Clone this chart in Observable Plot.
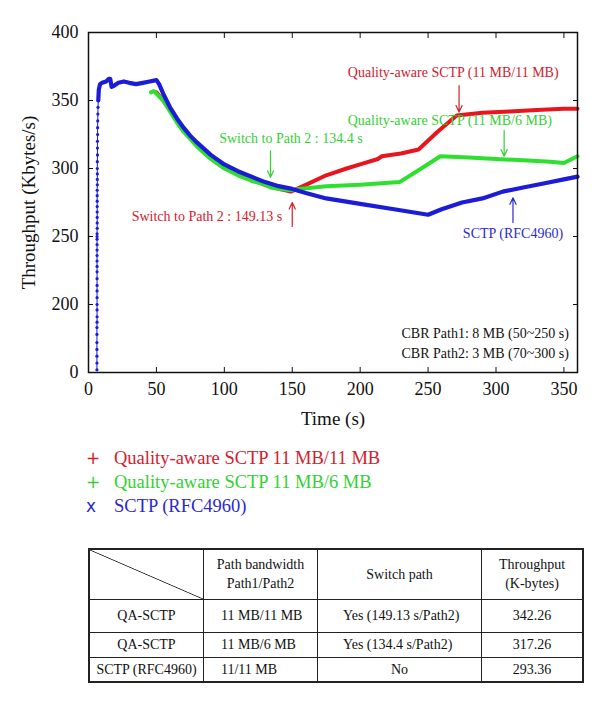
<!DOCTYPE html>
<html><head><meta charset="utf-8">
<script src="https://cdn.jsdelivr.net/npm/d3@7"></script>
<script src="https://cdn.jsdelivr.net/npm/@observablehq/plot@0.6"></script>
<style>
body{margin:0;background:#fff;font-family:"Liberation Serif",serif;}
#wrap{position:relative;width:600px;height:705px;overflow:hidden;}
#chart{position:absolute;left:0;top:0;}
#legend{position:absolute;left:84px;top:446px;font-size:18.5px;line-height:24px;}
#legend .m{display:inline-block;width:28px;font-family:"DejaVu Sans",sans-serif;font-size:17px;text-align:left;padding-left:2px;}
#tbl{position:absolute;left:88px;top:548px;}
table{border-collapse:collapse;border:2px solid #222;font-size:14px;color:#111;}
td{border:1px solid #222;padding:0;text-align:center;vertical-align:middle;line-height:19px;}
td.l{text-align:left;}
td.diag{background:linear-gradient(to top right, transparent calc(50% - 0.8px), #222 50%, transparent calc(50% + 0.8px));}
</style></head>
<body><div id="wrap"><div id="chart"></div><div id="legend"></div><div id="tbl"></div></div>
<script>
// ---- data ----
const xTicks = [0, 50, 100, 150, 200, 250, 300, 350];
const yTicks = [150, 200, 250, 300, 350, 400];
const yTickLabels = ["0", "200", "250", "300", "350", "400"];

const redT = [50, 55, 60, 70, 80, 90, 100, 110, 120, 130, 140, 149, 160, 175, 190, 200, 213, 216, 230, 243, 257, 271, 290, 310, 330, 350, 360];
const redV = [356, 350, 343, 328, 317, 308, 301, 296, 292, 288, 285, 283, 288, 295, 300, 303, 307, 309, 311, 314, 327, 339, 341, 342, 343, 344, 344];

const greenT = [46, 48, 50, 55, 60, 65, 70, 80, 90, 100, 110, 120, 130, 134, 140, 150, 155, 175, 200, 229, 245, 259, 280, 300, 320, 340, 350, 360];
const greenV = [356, 357, 355, 350, 342, 334, 327, 316, 307, 300, 295, 291, 288, 286, 285, 284, 285, 287, 288, 290, 300, 309, 308, 307, 306, 305, 304, 309];

const blueRiseT = [6.2, 6.2, 6.2, 6.2, 6.2, 6.2, 6.2, 6.3, 6.3, 6.3, 6.3, 6.3, 6.3, 6.3, 6.3, 6.3, 6.3, 6.3, 6.3, 6.3, 6.3, 6.3, 6.3, 6.3, 6.4, 6.4, 6.4, 6.4, 6.4, 6.4, 6.4, 6.4, 6.5, 6.5, 6.5, 6.5, 6.5, 6.6, 6.6, 6.6, 6.7, 6.7, 6.8, 6.9, 7.0, 7.2];
const blueRiseV = [152, 157, 162, 167, 172, 178, 183, 187, 191, 196, 200, 205, 210, 214, 219, 224, 228, 232, 236, 240, 244, 248, 250, 252, 256, 260, 264, 268, 272, 276, 280, 284, 288, 292, 296, 300, 305, 310, 315, 320, 325, 330, 335, 340, 345, 350];

const blueT = [7.2, 7.6, 8.5, 10, 13, 15, 16, 17, 19, 22, 26, 30, 35, 40, 45, 50, 52, 55, 60, 65, 70, 75, 80, 90, 100, 110, 120, 130, 140, 150, 160, 175, 200, 225, 250, 260, 275, 290, 305, 320, 335, 350, 360];
const blueV = [350, 358, 362, 363, 364, 366, 366, 360, 361, 363, 364, 363, 362, 363, 364, 365, 362, 355, 345, 337, 330, 324, 319, 310, 303, 298, 294, 290, 287, 285, 282, 278, 274, 270, 266, 270, 275, 278, 283, 286, 289, 292, 294];

const seriesNames = ["Quality-aware SCTP 11 MB/11 MB", "Quality-aware SCTP 11 MB/6 MB", "SCTP (RFC4960)"];
const seriesMarkers = ["+", "+", "x"];

const noteTexts = ["Quality-aware SCTP (11 MB/11 MB)", "Quality-aware SCTP (11 MB/6 MB)", "Switch to Path 2 : 134.4 s", "SCTP (RFC4960)"];
const noteT = [268.5, 266, 149, 312.5];
const noteV = [370.5, 335.3, 322, 252.2];
const noteCol = ["red", "green", "green", "blue"];

const noteEndTexts = ["Switch to Path 2 : 149.13 s", "CBR Path1: 8 MB (50~250 s)", "CBR Path2: 3 MB (70~300 s)"];
const noteEndT = [142.6, 353.7, 353.7];
const noteEndV = [264.7, 178.7, 164.2];
const noteEndCol = ["red", "black", "black"];

const arrowT = [272.8, 306, 134, 150, 312.5];
const arrowV1 = [361, 328, 313, 257.4, 260.3];
const arrowV2 = [341.5, 309, 293.5, 275, 278.5];
const arrowCol = ["red", "green", "green", "red", "blue"];

const tableHeader = ["", "Path bandwidth<br>Path1/Path2", "Switch path", "Throughput<br>(K-bytes)"];
const tableName = ["QA-SCTP", "QA-SCTP", "SCTP (RFC4960)"];
const tableBw = ["11 MB/11 MB", "11 MB/6 MB", "11/11 MB"];
const tableSwitch = ["Yes (149.13 s/Path2)", "Yes (134.4 s/Path2)", "No"];
const tableThr = ["342.26", "317.26", "293.36"];

// ---- styling ----
const colors = {red: "#e8141e", green: "#2ee02e", blue: "#1c1cd8", black: "#111"};
const textColors = {red: "#d2202c", green: "#34d034", blue: "#2a2ad0", black: "#111"};

const red = redT.map((t, i) => ({t, v: redV[i]}));
const green = greenT.map((t, i) => ({t, v: greenV[i]}));
const blueRise = blueRiseT.map((t, i) => ({t, v: blueRiseV[i]}));
const blue = blueT.map((t, i) => ({t, v: blueV[i]}));
const notes = noteTexts.map((text, i) => ({text, t: noteT[i], v: noteV[i], c: textColors[noteCol[i]]}));
const notesEnd = noteEndTexts.map((text, i) => ({text, t: noteEndT[i], v: noteEndV[i], c: textColors[noteEndCol[i]]}));
const arrows = arrowT.map((t, i) => ({t, v1: arrowV1[i], v2: arrowV2[i], c: textColors[arrowCol[i]]}));

const chart = Plot.plot({
  width: 600, height: 440,
  marginLeft: 88, marginRight: 23, marginTop: 32, marginBottom: 68,
  style: {fontFamily: "Liberation Serif, serif", fontSize: "18px", color: "#111", background: "#fff"},
  x: {domain: [0, 360]},
  y: {domain: [150, 400]},
  marks: [
    Plot.line(red, {x: "t", y: "v", stroke: colors.red, strokeWidth: 4}),
    Plot.line(green, {x: "t", y: "v", stroke: colors.green, strokeWidth: 4}),
    Plot.line(blueRise, {x: "t", y: "v", stroke: colors.blue, strokeWidth: 1}),
    Plot.dot(blueRise, {x: "t", y: "v", fill: colors.blue, r: 1.6}),
    Plot.line(blue, {x: "t", y: "v", stroke: colors.blue, strokeWidth: 4.2}),
    Plot.arrow(arrows, {x: "t", y1: "v1", y2: "v2", stroke: "c", strokeWidth: 1.2, headLength: 9, headAngle: 50}),
    Plot.text(notes, {x: "t", y: "v", text: "text", fill: "c", fontSize: 14, textAnchor: "middle"}),
    Plot.text(notesEnd, {x: "t", y: "v", text: "text", fill: "c", fontSize: 14, textAnchor: "end"}),
    Plot.axisX({ticks: xTicks, tickSize: -5, tickPadding: 15, fontSize: 18, label: null}),
    Plot.axisX({anchor: "top", ticks: xTicks, tickSize: -5, tickFormat: () => "", label: null}),
    Plot.axisY({ticks: yTicks, tickSize: -5, tickPadding: 15, fontSize: 18, label: null,
      tickFormat: d => yTickLabels[yTicks.indexOf(d)]}),
    Plot.axisY({anchor: "right", ticks: yTicks, tickSize: -5, tickFormat: () => "", label: null}),
    Plot.text(["Time (s)"], {frameAnchor: "bottom", textAnchor: "middle", dy: 52, fontSize: 19, fill: "#111"}),
    Plot.text(["Throughput (Kbytes/s)"], {frameAnchor: "left", textAnchor: "middle", dx: -60, rotate: -90, fontSize: 19, fill: "#111"}),
    Plot.frame({stroke: "#111", strokeWidth: 1.5})
  ]
});
document.getElementById("chart").appendChild(chart);

// legend
const legendColors = [textColors.red, textColors.green, textColors.blue];
document.getElementById("legend").innerHTML = seriesNames.map((n, i) =>
  `<div style="color:${legendColors[i]}"><span class="m">${seriesMarkers[i]}</span>${n}</div>`).join("");

// table
const colW = [113, 113, 163, 100];
let html = `<table><tr style="height:50px">` +
  tableHeader.map((h, i) => `<td class="${i === 0 ? "diag" : ""}" style="width:${colW[i]}px">${h}</td>`).join("") + `</tr>`;
const rowH = [33, 25, 25];
tableName.forEach((n, i) => {
  html += `<tr style="height:${rowH[i]}px"><td>${n}</td>` +
    `<td class="l" style="padding-left:17px">${tableBw[i]}</td>` +
    (tableSwitch[i] === "No" ? `<td>${tableSwitch[i]}</td>` : `<td class="l" style="padding-left:25px">${tableSwitch[i]}</td>`) +
    `<td>${tableThr[i]}</td></tr>`;
});
html += `</table>`;
document.getElementById("tbl").innerHTML = html;
</script></body></html>
